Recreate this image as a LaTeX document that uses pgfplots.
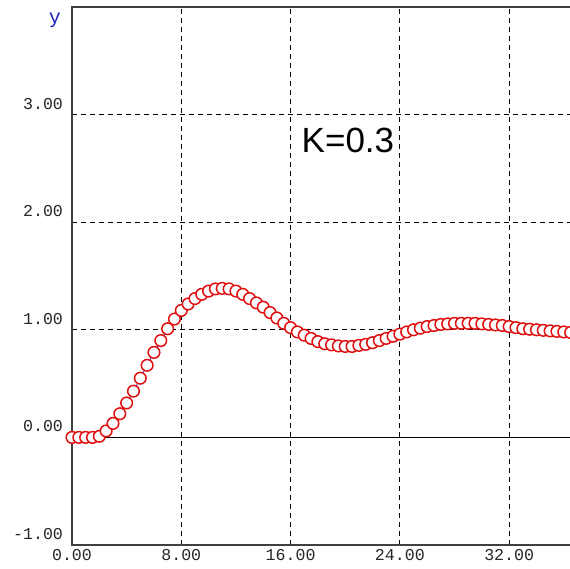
\documentclass[border=0pt]{standalone}
\usepackage{fontspec}
\setmainfont{Liberation Sans}
\newfontfamily\monofont{Liberation Mono}
\usepackage{pgfplots}
\pgfplotsset{compat=1.18}
\definecolor{axgray}{HTML}{404040}
\definecolor{ptred}{HTML}{E01010}
\definecolor{lnblue}{HTML}{2020C0}

\begin{document}
\begin{tikzpicture}
\useasboundingbox (-36pt,-12pt) rectangle (249pt,272.5pt);
\begin{axis}[
  scale only axis,
  width=250pt, height=269pt,
  xmin=0, xmax=36.6, ymin=-1, ymax=4.0,
  axis line style={axgray, line width=0.7pt},
  xtick={0,8,16,24,32}, ytick={-1,0,1,2,3},
  major tick length=0pt,
  grid=major,
  major grid style={black, line width=0.5pt, dash pattern=on 2.5pt off 2pt},
  /pgf/number format/assume math mode=true,
  /pgf/number format/.cd, fixed, fixed zerofill, precision=2,
  /pgfplots/.cd,
  tick label style={font=\monofont\fontsize{8.3}{10}\selectfont, text=black!85},
  xticklabel style={yshift=1.5pt},
  yticklabel style={yshift=5.5pt, xshift=-1pt},
]
\draw[black, line width=0.6pt] (axis cs:0,0) -- (axis cs:36.6,0);

\addplot[lnblue, line width=0.4pt, mark=*, mark size=2.9pt,
  mark options={solid, draw=ptred, fill=white, line width=0.75pt}]
  coordinates {
  (0,0) (0.5,0) (1,0) (1.5,0) (2,0.01) (2.5,0.06) (3,0.13) (3.5,0.22)
  (4,0.32) (4.5,0.43) (5,0.55) (5.5,0.67) (6,0.79) (6.5,0.90) (7,1.01)
  (7.5,1.10) (8,1.18) (8.5,1.24) (9,1.29) (9.5,1.33) (10,1.36) (10.5,1.38)
  (11,1.385) (11.5,1.38) (12,1.36) (12.5,1.33) (13,1.29) (13.5,1.25)
  (14,1.21) (14.5,1.16) (15,1.11) (15.5,1.06) (16,1.02) (16.5,0.98)
  (17,0.95) (17.5,0.92) (18,0.89) (18.5,0.87) (19,0.86) (19.5,0.85)
  (20,0.845) (20.5,0.845) (21,0.855) (21.5,0.865) (22,0.88) (22.5,0.90)
  (23,0.92) (23.5,0.94) (24,0.96) (24.5,0.98) (25,1.0) (25.5,1.015)
  (26,1.03) (26.5,1.04) (27,1.05) (27.5,1.055) (28,1.06) (28.5,1.06)
  (29,1.06) (29.5,1.06) (30,1.055) (30.5,1.05) (31,1.045) (31.5,1.04)
  (32,1.03) (32.5,1.02) (33,1.01) (33.5,1.005) (34,1.0) (34.5,0.995)
  (35,0.99) (35.5,0.985) (36,0.98) (36.5,0.975)};

\node[font=\fontsize{17.5}{20}\selectfont] at (axis cs:20.2,2.76) {K=0.3};
\end{axis}
\node[font=\monofont\fontsize{10}{12}\selectfont, text=lnblue] at (-8.5pt,262.5pt) {y};
\end{tikzpicture}
\end{document}
